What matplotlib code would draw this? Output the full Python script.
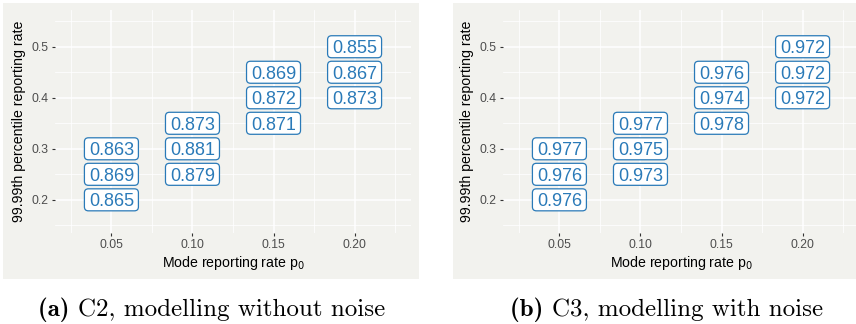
"""
Two ggplot-style label grids: 99.99th percentile vs mode reporting rate,
without noise (C2) and with noise (C3).
"""

import matplotlib
matplotlib.use("Agg")
import matplotlib.pyplot as plt
from matplotlib.patches import FancyBboxPatch, Rectangle
from matplotlib.transforms import ScaledTranslation

# x = mode reporting rate p0, y = 99.99th percentile reporting rate
P0 = [0.05, 0.05, 0.05, 0.10, 0.10, 0.10, 0.15, 0.15, 0.15, 0.20, 0.20, 0.20]
P9999 = [0.20, 0.25, 0.30, 0.25, 0.30, 0.35, 0.35, 0.40, 0.45, 0.40, 0.45, 0.50]

VALUES_C2 = ["0.865", "0.869", "0.863", "0.879", "0.881", "0.873",
             "0.871", "0.872", "0.869", "0.873", "0.867", "0.855"]
VALUES_C3 = ["0.976", "0.976", "0.977", "0.973", "0.975", "0.977",
             "0.978", "0.974", "0.976", "0.972", "0.972", "0.972"]

X_TICKS = [0.05, 0.10, 0.15, 0.20]
Y_TICKS = [0.2, 0.3, 0.4, 0.5]

CAPTIONS = [("(a)", "C2, modelling without noise"),
            ("(b)", "C3, modelling with noise")]

BG = "#F2F2EE"
BLUE = "#2A7AB8"
W, H = 856, 324

plt.rcParams["font.family"] = ["Liberation Sans", "DejaVu Sans"]

fig = plt.figure(figsize=(W / 100, H / 100), dpi=100)


def px_box(x0, y0, x1, y1):
    # pixel box (top-left origin) -> figure fraction rect
    return [x0 / W, 1 - y1 / H, (x1 - x0) / W, (y1 - y0) / H]


def draw_panel(rect, values):
    ax = fig.add_axes(rect)
    ax.set_facecolor(BG)
    for s in ax.spines.values():
        s.set_visible(False)
    ax.set_xlim(0.0152, 0.2348)
    ax.set_ylim(0.135, 0.572)
    ax.set_xticks(X_TICKS)
    ax.set_xticklabels([f"{v:.2f}" for v in X_TICKS])
    ax.set_yticks(Y_TICKS)
    ax.set_yticks([0.15, 0.25, 0.35, 0.45, 0.55], minor=True)
    ax.set_xticks([0.025, 0.075, 0.125, 0.175, 0.225], minor=True)
    ax.grid(True, which="major", color="white", linewidth=1.1)
    ax.grid(True, which="minor", color="white", linewidth=0.55)
    ax.set_axisbelow(True)
    ax.tick_params(which="major", length=2.5, width=0.8, color="#333333",
                   labelsize=8.8, labelcolor="#4D4D4D", pad=2)
    ax.tick_params(which="minor", length=0)
    ax.set_xlabel("Mode reporting rate p$_0$", fontsize=10.2, color="black", labelpad=2)
    ax.set_ylabel("99.99th percentile reporting rate", fontsize=10.2, color="black", labelpad=4)

    for x, y, v in zip(P0, P9999, values):
        anchor = ScaledTranslation(x, y, ax.transData)
        box = FancyBboxPatch((-0.27, -0.11), 0.54, 0.22,
                             boxstyle="round,pad=0,rounding_size=0.04",
                             transform=fig.dpi_scale_trans + anchor,
                             facecolor="white", edgecolor=BLUE, linewidth=0.9,
                             zorder=3)
        ax.add_patch(box)
        ax.text(x, y, v, ha="center", va="center_baseline", fontsize=13,
                color=BLUE, zorder=4)
    return ax


# light grey plot backgrounds behind each panel
for x0, x1 in [(3, 419), (453, 860)]:
    r = px_box(x0, 3, x1, 279)
    fig.patches.append(Rectangle((r[0], r[1]), r[2], r[3], transform=fig.transFigure,
                                 facecolor=BG, edgecolor="none", zorder=-5))

draw_panel(px_box(55, 10, 411, 233), VALUES_C2)
draw_panel(px_box(503, 10, 859, 233), VALUES_C3)

for x0, (tag, cap) in zip([38, 510], CAPTIONS):
    t = fig.text(x0 / W, 1 - 310 / H, tag + " ", ha="left", va="center",
                 fontsize=18, family="cmb10")
    fig.canvas.draw()
    bb = t.get_window_extent()
    fig.text(bb.x1 / W, 1 - 310 / H, cap, ha="left", va="center",
             fontsize=18, family="cmr10")

fig.savefig("out.png", dpi=100)
